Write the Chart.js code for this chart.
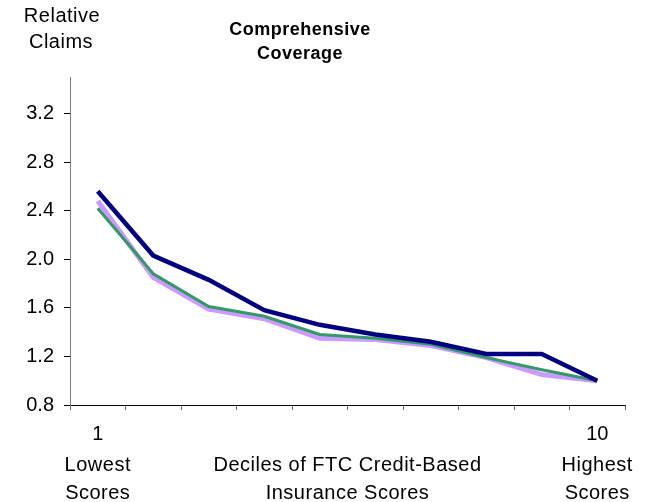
<!DOCTYPE html>
<html>
<head>
<meta charset="utf-8">
<script src="https://cdn.jsdelivr.net/npm/chart.js@4.4.0/dist/chart.umd.min.js"></script>
<style>
  body { margin: 0; background: #fff; }
  #chart { display: block; }
</style>
</head>
<body>
<canvas id="chart" width="657" height="502"></canvas>
<script>
const deciles = ["1", "2", "3", "4", "5", "6", "7", "8", "9", "10"];
const xTickLabels = ["1", "", "", "", "", "", "", "", "", "10"];
const yTicks = [0.8, 1.2, 1.6, 2.0, 2.4, 2.8, 3.2];

const navySeries = [2.56, 2.03, 1.83, 1.58, 1.46, 1.38, 1.32, 1.22, 1.22, 1.0];
const greenSeries = [2.42, 1.88, 1.61, 1.53, 1.38, 1.35, 1.3, 1.19, 1.09, 1.0];
const lilacSeries = [2.48, 1.85, 1.59, 1.51, 1.35, 1.34, 1.29, 1.19, 1.05, 1.0];

const FONT = "'Liberation Sans', Arial, sans-serif";

const textPlugin = {
  id: "extraText",
  afterDraw: function (chart) {
    const ctx = chart.ctx;
    const x = chart.scales.x;
    const area = chart.chartArea;
    ctx.save();
    ctx.fillStyle = "#000";
    ctx.textAlign = "center";
    ctx.textBaseline = "middle";
    if ("letterSpacing" in ctx) ctx.letterSpacing = "0.5px";

    ctx.font = "20px " + FONT;
    ctx.fillText("Relative", 62, 16);
    ctx.fillText("Claims", 61, 42);

    ctx.font = "bold 18px " + FONT;
    ctx.fillText("Comprehensive", 300, 30);
    ctx.fillText("Coverage", 300, 54);

    ctx.font = "20px " + FONT;
    const left = x.getPixelForValue(0);
    const right = x.getPixelForValue(deciles.length - 1);
    const mid = (area.left + area.right) / 2;
    ctx.fillText("Lowest", left, 465);
    ctx.fillText("Scores", left, 493);
    ctx.fillText("Deciles of FTC Credit-Based", mid, 465);
    ctx.fillText("Insurance Scores", mid, 493);
    ctx.fillText("Highest", right, 465);
    ctx.fillText("Scores", right, 493);
    ctx.restore();
  },
};

new Chart(document.getElementById("chart"), {
  type: "line",
  data: {
    labels: deciles,
    datasets: [
      {
        label: "Navy",
        data: navySeries,
        borderColor: "#000080",
        borderWidth: 4.5,
        order: 0,
      },
      {
        label: "Green",
        data: greenSeries,
        borderColor: "#339966",
        borderWidth: 3,
        order: 1,
      },
      {
        label: "Lilac",
        data: lilacSeries,
        borderColor: "#CC99FF",
        borderWidth: 5,
        order: 2,
      },
    ],
  },
  options: {
    responsive: false,
    animation: false,
    elements: {
      point: { radius: 0, hoverRadius: 0 },
      line: { tension: 0, fill: false, borderCapStyle: "butt" },
    },
    layout: { padding: { top: 77, right: 32, left: 0, bottom: 0 } },
    plugins: {
      legend: { display: false },
      tooltip: { enabled: false },
      title: { display: false },
    },
    scales: {
      x: {
        type: "category",
        offset: true,
        grid: {
          offset: true,
          drawOnChartArea: false,
          tickLength: 5,
          color: "#666",
        },
        border: { display: true, color: "#000", width: 1 },
        ticks: {
          autoSkip: false,
          maxRotation: 0,
          padding: 12,
          color: "#000",
          font: { family: FONT, size: 20 },
          callback: function (value, index) {
            return xTickLabels[index];
          },
        },
        afterFit: function (scale) {
          scale.height = 97;
        },
      },
      y: {
        min: 0.8,
        max: 3.5,
        grid: {
          drawOnChartArea: false,
          tickLength: 6,
          color: "#000",
        },
        border: { display: true, color: "#808080", width: 1 },
        ticks: {
          padding: 10,
          color: "#000",
          font: { family: FONT, size: 20 },
          callback: function (value) {
            return Number(value).toFixed(1);
          },
        },
        afterBuildTicks: function (scale) {
          scale.ticks = yTicks.map((v) => ({ value: v }));
        },
        afterFit: function (scale) {
          scale.width = 70;
        },
      },
    },
  },
  plugins: [textPlugin],
});
</script>
</body>
</html>
